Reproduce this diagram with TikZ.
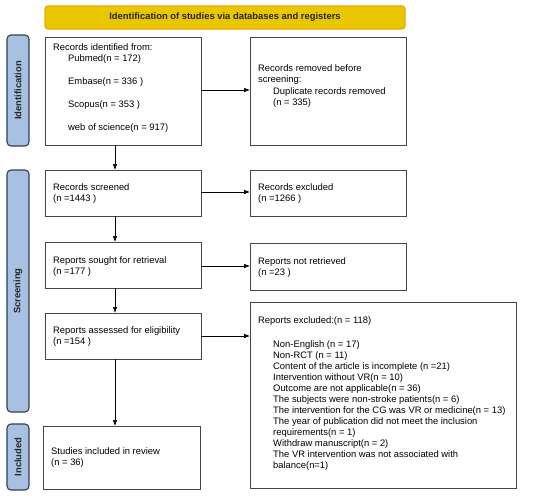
\documentclass[tikz,border=0pt]{standalone}
\usepackage{fontspec}
\setmainfont{Liberation Sans}
\usetikzlibrary{arrows.meta}
\definecolor{bannerfill}{RGB}{232,198,0}
\definecolor{bannerline}{RGB}{245,165,0}
\definecolor{sidefill}{RGB}{168,192,226}
\definecolor{sideline}{RGB}{50,62,80}
\definecolor{boxline}{RGB}{70,70,70}
\begin{document}
\begin{tikzpicture}[x=1pt,y=-1pt,
  box/.style={draw=boxline,line width=1pt},
  sidebox/.style={draw=sideline,fill=sidefill,line width=1.1pt,rounded corners=4pt},
  sidetext/.style={rotate=90,font=\fontsize{9.4}{11}\selectfont\bfseries,text=black!85},
  txt/.style={anchor=north west,inner sep=0pt,align=left,font=\fontsize{9.4}{11}\selectfont},
  conn/.style={-{Latex[length=6pt,width=4.5pt]},line width=0.6pt}]
\useasboundingbox (0,0) rectangle (550,496);
% banner
\draw[fill=bannerfill,draw=bannerline,line width=1.2pt,rounded corners=3pt] (45,6) rectangle (405,29);
\node[font=\fontsize{9.4}{11}\selectfont\bfseries,text=black!85] (banner) at (225,17.5) {Identification of studies via databases and registers};
% side labels
\draw[sidebox] (7,35) rectangle (29,146);
\node[sidetext] (sid) at (18,90.5) {Identification};
\draw[sidebox] (7,170) rectangle (29,412);
\node[sidetext] (sscr) at (18,291) {Screening};
\draw[sidebox] (7,424) rectangle (29,490);
\node[sidetext] (sinc) at (18,457) {Included};
% boxes
\draw[box] (45,37) rectangle (201,145);
\coordinate (idS) at (115,145); \coordinate (idE) at (201,90);
\draw[box] (250,37) rectangle (406,145);
\coordinate (remW) at (250,90);
\draw[box] (45,170) rectangle (201,216);
\coordinate (scrN) at (115,170); \coordinate (scrS) at (115,216); \coordinate (scrE) at (201,192);
\draw[box] (250,170) rectangle (406,216);
\coordinate (excW) at (250,192);
\draw[box] (45,242) rectangle (201,288);
\coordinate (souN) at (115,242); \coordinate (souS) at (115,288); \coordinate (souE) at (201,266);
\draw[box] (250,243) rectangle (406,290);
\coordinate (nrW) at (250,266);
\draw[box] (45,313) rectangle (201,359);
\coordinate (assN) at (115,313); \coordinate (assS) at (115,359); \coordinate (assE) at (201,336);
\draw[box] (250,302) rectangle (516,488);
\coordinate (rexW) at (250,336);
\draw[box] (43,426) rectangle (200,489);
\coordinate (incN) at (115,426);
% texts
\node[txt] (t1) at (53,43.5) {Records identified from:};
\node[txt] (t1a) at (68,54.5) {Pubmed(n = 172)};
\node[txt] (t1b) at (68,77.5) {Embase(n = 336 )};
\node[txt] (t1c) at (68,100.5) {Scopus(n = 353 )};
\node[txt] (t1d) at (68,123.5) {web of science(n = 917)};
\node[txt] (t2) at (258,64.5) {Records removed before\\screening:};
\node[txt] (t2a) at (273,87.5) {Duplicate records removed\\(n = 335)};
\node[txt] (t3) at (53,183.5) {Records screened\\(n =1443 )};
\node[txt] (t4) at (258,183.5) {Records excluded\\(n =1266 )};
\node[txt] (t5) at (53,256) {Reports sought for retrieval\\(n =177 )};
\node[txt] (t6) at (258,257.5) {Reports not retrieved\\(n =23 )};
\node[txt] (t7) at (53,326.5) {Reports assessed for eligibility\\(n =154 )};
\node[txt] (t8) at (258,316.5) {Reports excluded:(n = 118)};
\node[txt] (t8a) at (273,340.5) {Non-English (n = 17)\\Non-RCT (n = 11)\\Content of the article is incomplete (n =21)\\Intervention without VR(n = 10)\\Outcome are not applicable(n = 36)\\The subjects were non-stroke patients(n = 6)\\The intervention for the CG was VR or medicine(n = 13)\\The year of publication did not meet the inclusion\\requirements(n = 1)\\Withdraw manuscript(n = 2)\\The VR intervention was not associated with\\balance(n=1)};
\node[txt] (t9) at (51,447.5) {Studies included in review\\(n = 36)};
% connectors
\draw[conn] (idE) -- (remW);
\draw[conn] (idS) -- (scrN);
\draw[conn] (scrE) -- (excW);
\draw[conn] (scrS) -- (souN);
\draw[conn] (souE) -- (nrW);
\draw[conn] (souS) -- (assN);
\draw[conn] (assE) -- (rexW);
\draw[conn] (assS) -- (incN);
\end{tikzpicture}
\end{document}
